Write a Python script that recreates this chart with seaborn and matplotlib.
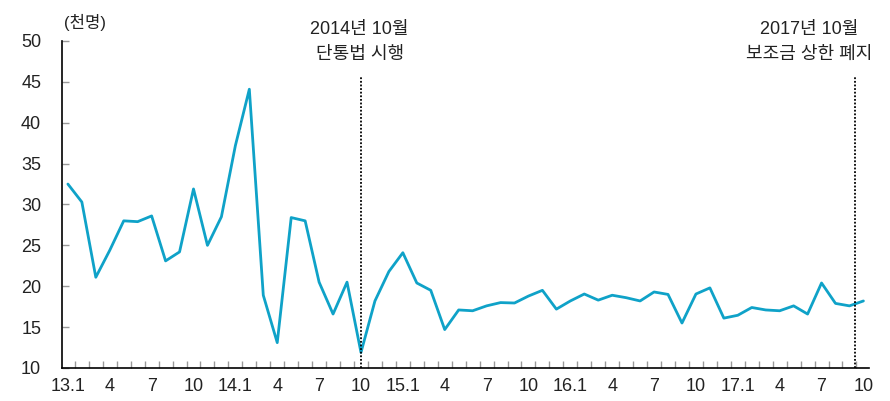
import numpy as np
import pandas as pd
import matplotlib
matplotlib.use('Agg')
import matplotlib.pyplot as plt
import seaborn as sns

# monthly values, 2013.1 ~ 2017.10 (thousand persons)
months = [f'{y}.{m}' for y in range(13, 18) for m in range(1, 13)][:58]
values = [32.5, 30.3, 21.1, 24.4, 28.0, 27.9, 28.6, 23.1, 24.2, 31.9, 25.0, 28.5,
          37.2, 44.1, 18.9, 13.1, 28.4, 28.0, 20.5, 16.6, 20.5, 11.9, 18.2, 21.8,
          24.1, 20.4, 19.5, 14.7, 17.1, 17.0, 17.6, 18.0, 17.95, 18.8, 19.5, 17.2,
          18.2, 19.05, 18.3, 18.9, 18.6, 18.2, 19.3, 19.0, 15.5, 19.05, 19.8, 16.1,
          16.45, 17.4, 17.1, 17.0, 17.6, 16.6, 20.4, 17.9, 17.6, 18.2]
tick_labels = ['13.1', '4', '7', '10', '14.1', '4', '7', '10', '15.1', '4', '7', '10',
               '16.1', '4', '7', '10', '17.1', '4', '7', '10']
events = ['2014년 10월\n단통법 시행', '2017년 10월\n보조금 상한 폐지']
event_pos = [21, 56.4]
text_pos = [20.9, 53.1]

df = pd.DataFrame({'idx': np.arange(len(values)), 'value': values})

sns.set_style('white')
plt.rcParams['font.family'] = ['Liberation Sans', 'Noto Sans CJK KR', 'DejaVu Sans']

fig = plt.figure(figsize=(8.9, 4.01), dpi=100)
ax = fig.add_axes([0.0697, 0.0823, 0.9067, 0.8155])

sns.lineplot(data=df, x='idx', y='value', ax=ax, color='#0fa2c8', linewidth=2.0)

for pos, tx, txt in zip(event_pos, text_pos, events):
    ax.vlines(pos, 10, 45.7, colors='black', linestyles=(0, (1, 1)), linewidth=1.3)
    ax.text(tx, 49.9, txt, ha='center', va='center', fontsize=13,
            color='#222222', linespacing=1.6, clip_on=False)

ax.set_xlim(-0.42, 57.4)
ax.set_ylim(10, 50)
ax.set_yticks(range(10, 51, 5))
ax.set_xticks(range(0, 58, 3))
ax.set_xticklabels(tick_labels)
ax.set_xticks(np.arange(0.5, 57.5, 1), minor=True)
ax.tick_params(axis='x', which='major', length=0, pad=7, labelsize=13, labelcolor='#222222')
ax.tick_params(axis='x', which='minor', direction='in', length=5, width=1, color='#999999', bottom=True)
ax.tick_params(axis='y', direction='in', length=5, width=1, color='#999999', pad=15,
               labelsize=13, labelcolor='#222222', left=True)
ax.set_xlabel('')
ax.set_ylabel('')

for s in ['top', 'right']:
    ax.spines[s].set_visible(False)
for s in ['left', 'bottom']:
    ax.spines[s].set_color('black')
    ax.spines[s].set_linewidth(1.2)

fig.text(85 / 890, 1 - 22 / 401, '(천명)', ha='center', va='center', fontsize=12, color='#222222')

fig.savefig('out.png', dpi=100)
